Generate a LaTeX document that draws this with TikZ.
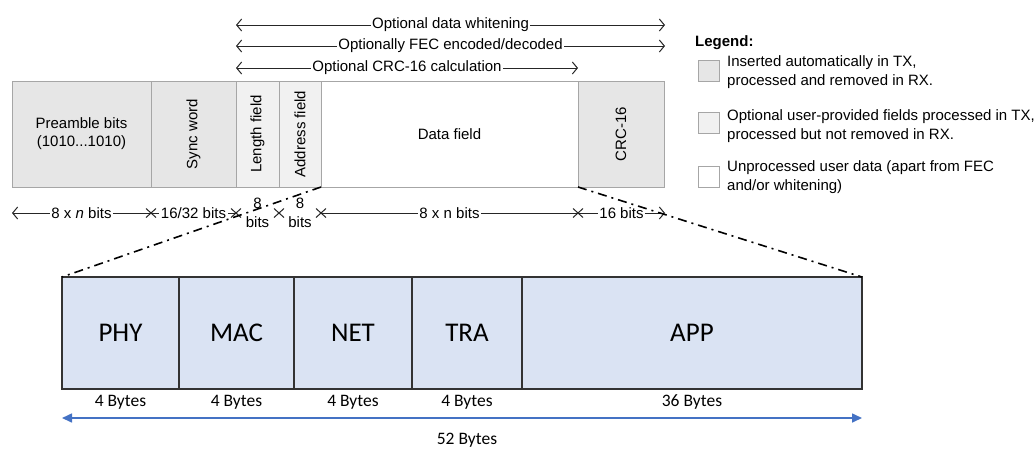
\documentclass[tikz,border=0pt]{standalone}
\usepackage{fontspec}
\setmainfont{Liberation Sans}
\newfontfamily\calibri{Carlito}
\usetikzlibrary{arrows.meta,calc}
\definecolor{hdrgray}{HTML}{E6E6E6}
\definecolor{optgray}{HTML}{F1F1F1}
\definecolor{edgegray}{HTML}{A6A6A6}
\definecolor{layblue}{HTML}{DAE3F3}
\definecolor{laybord}{HTML}{333333}
\definecolor{arrblue}{HTML}{4472C4}
\begin{document}
\begin{tikzpicture}[x=1pt,y=-1pt,
  txt/.style={font=\fontsize{15}{18}\selectfont},
  field/.style={txt, draw=edgegray, line width=0.9pt, anchor=north west, inner sep=0pt, outer sep=0pt, minimum height=106pt, align=center},
  layer/.style={draw=laybord, fill=layblue, line width=1.5pt, anchor=north west, inner sep=0pt, outer sep=0pt, minimum height=112pt, font=\calibri\fontsize{27}{30}\selectfont},
  dim/.style={draw=black!85, line width=1pt},
  barb/.tip={Straight Barb[length=5pt,width=12pt,line width=1pt]},
  lbl/.style={txt, fill=white, inner xsep=1.5pt, inner ysep=0pt},
  bytes/.style={font=\calibri\fontsize{17.5}{20}\selectfont, inner sep=0pt},
  dashdot/.style={line width=1.6pt, dash pattern=on 9pt off 5pt on 2pt off 5pt},
  legbox/.style={draw=edgegray, line width=0.9pt, anchor=north west, minimum width=21pt, minimum height=21pt, inner sep=0pt, outer sep=0pt},
  legtxt/.style={anchor=west, align=left, inner sep=0pt, font=\fontsize{15}{18.5}\selectfont}
]
\useasboundingbox (0,0) rectangle (1036,448);

% top frame fields
\node[field, fill=hdrgray, minimum width=139pt] (pre) at (12,81) {Preamble bits\\(1010...1010)};
\node[field, fill=hdrgray, minimum width=85pt] (sync) at (151,81) {};
\node[field, fill=optgray, minimum width=43pt] (len) at (236,81) {};
\node[field, fill=optgray, minimum width=42pt] (addr) at (279,81) {};
\node[field, fill=white, minimum width=257pt] (data) at (321,81) {Data field};
\node[field, fill=hdrgray, minimum width=86pt] (crc) at (578,81) {};
\node[txt, rotate=90] (synct) at (sync.center) {Sync word};
\node[txt, rotate=90] (lent) at (len.center) {Length field};
\node[txt, rotate=90] (addrt) at (addr.center) {Address field};
\node[txt, rotate=90] (crct) at (crc.center) {CRC-16};

% processing range arrows
\coordinate (w1) at (236,25); \coordinate (w2) at (665,25);
\coordinate (f1) at (236,46); \coordinate (f2) at (665,46);
\coordinate (c1) at (236,68); \coordinate (c2) at (578,68);
\draw[dim, barb-barb] (w1) -- node[lbl] (wl) {Optional data whitening} (w2);
\draw[dim, barb-barb] (f1) -- node[lbl] (fl) {Optionally FEC encoded/decoded} (f2);
\draw[dim, barb-barb] (c1) -- node[lbl] (cl) {Optional CRC-16 calculation} (c2);

% size dimensions
\coordinate (d0) at (12,213);
\coordinate (d1) at (151,213);
\coordinate (d2) at (236,213);
\coordinate (d3) at (279,213);
\coordinate (d4) at (321,213);
\coordinate (d5) at (578,213);
\coordinate (d6) at (665,213);
\draw[dim, barb-] (d0) -- node[lbl] (s1) {8 x \textit{n} bits} (d1);
\draw[dim] (d1) -- node[lbl] (s2) {16/32 bits} (d2);
\node[txt, align=center, inner sep=0pt, font=\fontsize{15}{19}\selectfont] (s3) at ($(d2)!0.5!(d3)$) {8\\bits};
\node[txt, align=center, inner sep=0pt, font=\fontsize{15}{19}\selectfont] (s4) at ($(d3)!0.5!(d4)$) {8\\bits};
\draw[dim] (d4) -- node[lbl] (s5) {8 x n bits} (d5);
\draw[dim, -barb] (d5) -- node[lbl] (s6) {16 bits} (d6);
\foreach \p in {d1,d2,d3,d4,d5}{
  \draw[dim] ($(\p)+(-5,-4.5)$) -- ($(\p)+(5,4.5)$);
  \draw[dim] ($(\p)+(-5,4.5)$) -- ($(\p)+(5,-4.5)$);
}

% legend
\node[anchor=west, inner sep=0pt, font=\bfseries\fontsize{15}{18}\selectfont] (legt) at (695,43) {Legend:};
\node[legbox, fill=hdrgray] (lg1) at (698,60) {};
\node[legbox, fill=optgray] (lg2) at (698,112) {};
\node[legbox, fill=white] (lg3) at (698,166) {};
\node[legtxt] (lt1) at (727,72) {Inserted automatically in TX,\\processed and removed in RX.};
\node[legtxt] (lt2) at (727,126) {Optional user-provided fields processed in TX,\\processed but not removed in RX.};
\node[legtxt] (lt3) at (727,177) {Unprocessed user data (apart from FEC\\and/or whitening)};

% layer boxes
\node[layer, minimum width=117pt] (phy) at (62,277) {PHY};
\node[layer, minimum width=115pt] (mac) at (179,277) {MAC};
\node[layer, minimum width=118pt] (net) at (294,277) {NET};
\node[layer, minimum width=110pt] (tra) at (412,277) {TRA};
\node[layer, minimum width=340pt] (app) at (522,277) {APP};

% zoom lines
\draw[dashdot] (addr.south east) -- (phy.north west);
\draw[dashdot] (crc.south west) -- (app.north east);

% byte labels
\node[bytes] (b1) at ($(phy.south)+(0,13)$) {4 Bytes};
\node[bytes] (b2) at ($(mac.south)+(0,13)$) {4 Bytes};
\node[bytes] (b3) at ($(net.south)+(0,13)$) {4 Bytes};
\node[bytes] (b4) at ($(tra.south)+(0,13)$) {4 Bytes};
\node[bytes] (b5) at ($(app.south)+(0,13)$) {36 Bytes};
\coordinate (t1) at (62,418); \coordinate (t2) at (862,418);
\draw[arrblue, line width=1.6pt, {Triangle[length=10pt,width=9pt]}-{Triangle[length=10pt,width=9pt]}] (t1) -- (t2);
\node[bytes] (tot) at (467,440) {52 Bytes};
\end{tikzpicture}
\end{document}
